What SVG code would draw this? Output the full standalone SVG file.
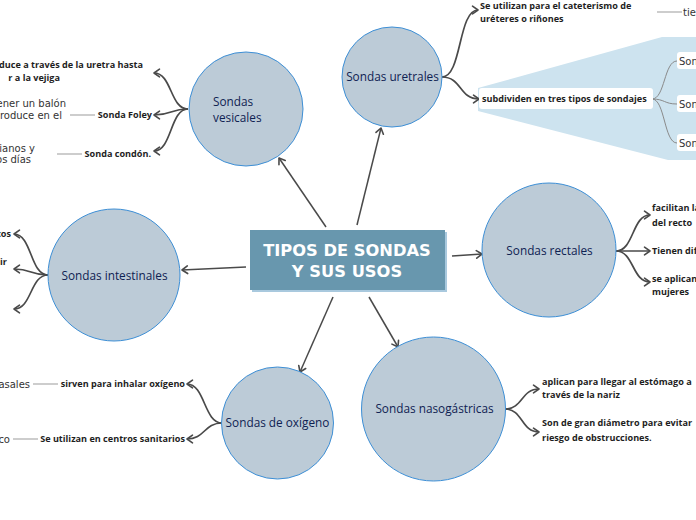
<svg xmlns="http://www.w3.org/2000/svg" width="696" height="520" viewBox="0 0 696 520">
<defs>
<marker id="ah" markerUnits="userSpaceOnUse" markerWidth="12" markerHeight="12" viewBox="-7 -6 9 12" refX="0" refY="0" orient="auto">
<path d="M-5.5,-3.8 L0,0 L-5.5,3.8" fill="none" stroke="#4a4a4a" stroke-width="1.6" stroke-linejoin="round" stroke-linecap="round"/>
</marker>
<style>
.circ{fill:#bccbd7;stroke:#3d8fd6;stroke-width:1}
.cl{font-family:"Open Sans","Noto Sans",sans-serif;font-size:11.8px;fill:#0f2252}
.b{font-family:"Open Sans","Noto Sans",sans-serif;font-size:9.1px;font-weight:bold;fill:#1e1e1e}
.r{font-family:"DejaVu Sans",Verdana,sans-serif;font-size:10px;fill:#333}
.main{fill:none;stroke:#4a4a4a;stroke-width:1.5;marker-end:url(#ah)}
.br{fill:none;stroke:#4a4a4a;stroke-width:1.7;marker-end:url(#ah)}
.sub{fill:none;stroke:#8a8a8a;stroke-width:1}
.gl{stroke:#bdbdbd;stroke-width:1.5}
.wb{fill:#fff}
</style>
</defs>
<rect width="696" height="520" fill="#fff"/>

<!-- callout background -->
<path d="M478,88 L662,37 L696,37 L696,160 L668,160 L478,111 Z" fill="#cde3ef"/>

<g id="connectors">
<line class="main" x1="326" y1="227" x2="279" y2="158"/>
<line class="main" x1="357" y1="225" x2="381" y2="128"/>
<line class="main" x1="246" y1="267" x2="182" y2="270"/>
<line class="main" x1="452" y1="256" x2="482" y2="254"/>
<line class="main" x1="333" y1="297" x2="300" y2="372"/>
<line class="main" x1="369" y1="297" x2="398" y2="347"/>

<path class="br" d="M188,109 C170,109 172,73 154,73"/>
<path class="br" d="M188,109 C170,109 172,115 154,115"/>
<path class="br" d="M188,109 C170,109 172,151 154,151"/>

<path class="br" d="M48,275 C30,275 32,234 14,234"/>
<path class="br" d="M48,275 C30,275 32,269 14,269"/>
<path class="br" d="M48,275 C30,275 32,309 14,309"/>

<path class="br" d="M442,77 C462,77 458,10 478,10"/>
<path class="br" d="M442,77 C462,77 459,99 479,99"/>

<path class="br" d="M616,251 C634,251 632,215 650,215"/>
<path class="br" d="M616,251 C634,251 632,251 650,251"/>
<path class="br" d="M616,251 C634,251 632,282 650,282"/>

<path class="br" d="M222,423 C204,423 205,384 187,384"/>
<path class="br" d="M222,423 C204,423 205,439 187,439"/>

<path class="br" d="M505,409 C523,409 521,389 539,389"/>
<path class="br" d="M505,409 C523,409 521,432 539,432"/>

<path class="sub" d="M652,99 C665,99 664,61 677,61"/>
<path class="sub" d="M652,99 C665,99 664,104 677,104"/>
<path class="sub" d="M652,99 C665,99 664,143 677,143"/>

<line class="gl" x1="70" y1="115" x2="95" y2="115"/>
<line class="gl" x1="57" y1="154" x2="82" y2="154"/>
<line class="gl" x1="33" y1="384" x2="58" y2="384"/>
<line class="gl" x1="13" y1="439" x2="38" y2="439"/>
<line class="gl" x1="657" y1="12" x2="682" y2="12"/>
</g>

<g id="central">
<rect x="252" y="232" width="195" height="60" fill="#a9c9de"/>
<rect x="250" y="230" width="195" height="60" fill="#6897ae"/>
<text x="347" y="256" text-anchor="middle" font-family="'DejaVu Sans',Verdana,sans-serif" font-weight="bold" font-size="16.3" fill="#fff">TIPOS DE SONDAS</text>
<text x="347" y="277" text-anchor="middle" font-family="'DejaVu Sans',Verdana,sans-serif" font-weight="bold" font-size="16.3" fill="#fff">Y SUS USOS</text>
</g>

<g id="vesicales">
<circle class="circ" cx="246" cy="109" r="57"/>
<text class="cl" x="213" y="106">Sondas</text>
<text class="cl" x="213" y="122">vesicales</text>
</g>
<g id="vesicales-items">
<text class="b" x="143" y="68.3" text-anchor="end">duce a través de la uretra hasta</text>
<text class="b" x="60" y="81.3" text-anchor="end">r a la vejiga</text>
<text class="r" x="66" y="107" text-anchor="end">ener un balón</text>
<text class="r" x="62" y="119" text-anchor="end">roduce en el</text>
<text class="b" x="152" y="118.3" text-anchor="end">Sonda Foley</text>
<text class="r" x="35" y="151.5" text-anchor="end">ianos y</text>
<text class="r" x="31" y="163" text-anchor="end">os días</text>
<text class="b" x="151" y="157.3" text-anchor="end">Sonda condón.</text>
</g>

<g id="uretrales">
<circle class="circ" cx="392" cy="77" r="50"/>
<text class="cl" x="392.5" y="81" text-anchor="middle">Sondas uretrales</text>
</g>
<g id="uretrales-items">
<text class="b" x="480" y="9.3">Se utilizan para el cateterismo de</text>
<text class="b" x="480" y="22">uréteres o riñones</text>
<text class="r" x="683" y="15.5">tie</text>
<rect class="wb" x="479" y="88" width="174" height="21" rx="3"/>
<text class="b" x="482" y="102.3">subdividen en tres tipos de sondajes</text>
<rect class="wb" x="677" y="52" width="24" height="17" rx="3"/>
<text class="r" x="679" y="64.5">Son</text>
<rect class="wb" x="677" y="95" width="24" height="17" rx="3"/>
<text class="r" x="679" y="107.5">Son</text>
<rect class="wb" x="677" y="134" width="24" height="17" rx="3"/>
<text class="r" x="679" y="146.5">Son</text>
</g>

<g id="intestinales">
<circle class="circ" cx="114" cy="275" r="66"/>
<text class="cl" x="114.5" y="280" text-anchor="middle">Sondas intestinales</text>
</g>
<g id="intestinales-items">
<text class="b" x="11" y="237.3" text-anchor="end">cos</text>
<text class="b" x="7" y="265.3" text-anchor="end">ir</text>
</g>

<g id="rectales">
<circle class="circ" cx="549" cy="250" r="67"/>
<text class="cl" x="549.5" y="255" text-anchor="middle">Sondas rectales</text>
</g>
<g id="rectales-items">
<text class="b" x="652" y="211.3">facilitan la</text>
<text class="b" x="652" y="226.3">del recto</text>
<text class="b" x="652" y="254.3">Tienen dif</text>
<text class="b" x="652" y="282.3">se aplican</text>
<text class="b" x="652" y="295.3">mujeres</text>
</g>

<g id="oxigeno">
<circle class="circ" cx="277.5" cy="423" r="56"/>
<text class="cl" x="277.5" y="427" text-anchor="middle">Sondas de oxígeno</text>
</g>
<g id="oxigeno-items">
<text class="r" x="30" y="387.5" text-anchor="end">asales</text>
<text class="b" x="185" y="387.3" text-anchor="end">sirven para inhalar oxígeno</text>
<text class="r" x="10" y="442.5" text-anchor="end">co</text>
<text class="b" x="185" y="442.3" text-anchor="end">Se utilizan en centros sanitarios</text>
</g>

<g id="nasogastricas">
<circle class="circ" cx="433.5" cy="409" r="72"/>
<text class="cl" x="434.5" y="413" text-anchor="middle">Sondas nasogástricas</text>
</g>
<g id="nasogastricas-items">
<text class="b" x="542" y="385.3">aplican para llegar al estómago a</text>
<text class="b" x="542" y="398.3">través de la nariz</text>
<text class="b" x="542" y="426.3">Son de gran diámetro para evitar</text>
<text class="b" x="542" y="441.3">riesgo de obstrucciones.</text>
</g>
</svg>
